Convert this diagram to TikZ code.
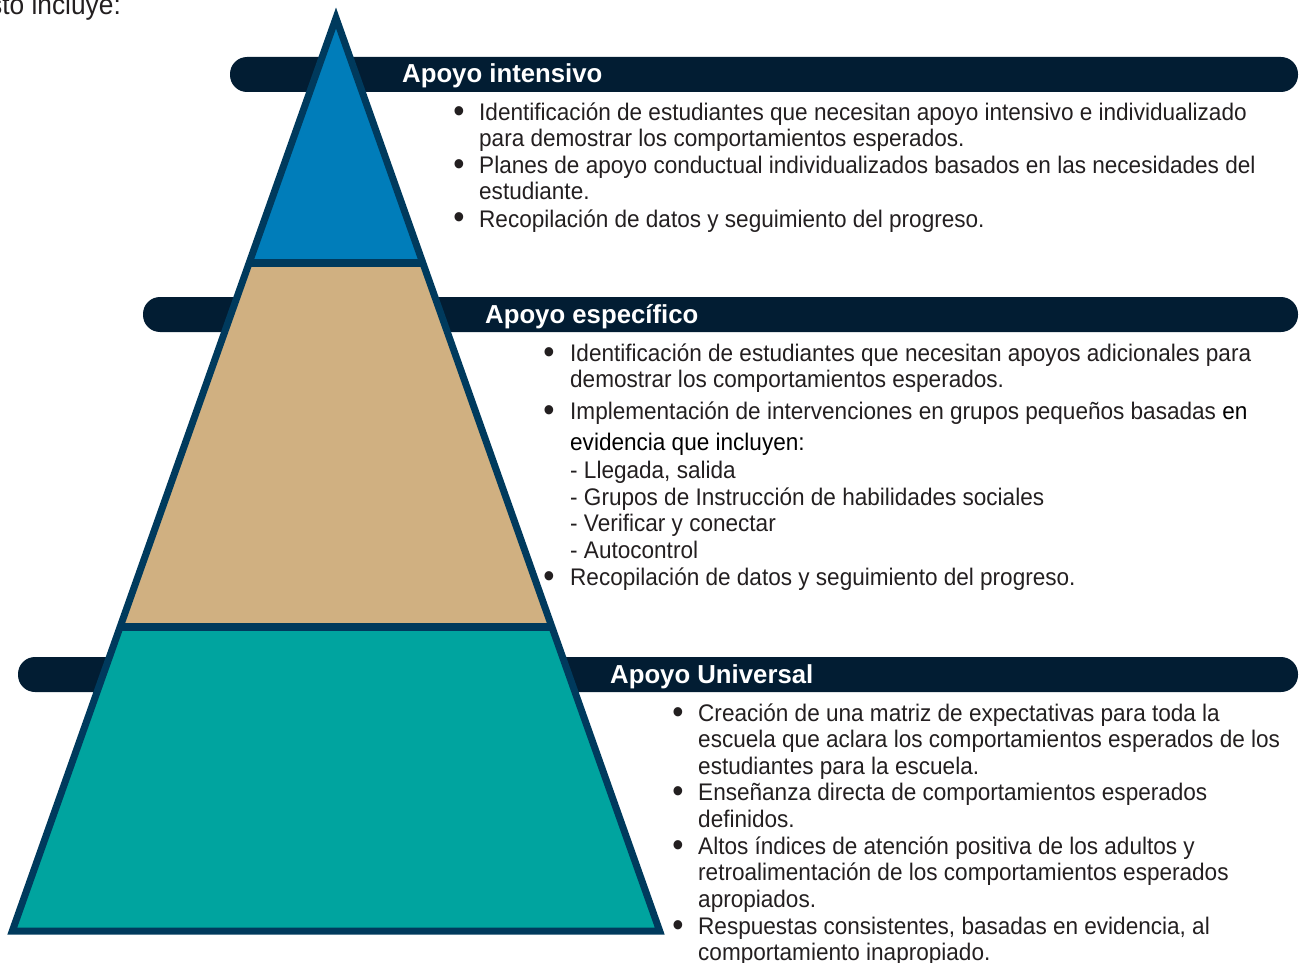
\documentclass[tikz,border=0pt]{standalone}
\usepackage{fontspec}
\setmainfont{Liberation Sans}[FakeStretch=0.94]
\newfontfamily\titlefont{Liberation Sans}[FakeStretch=0.99]
\definecolor{barnavy}{HTML}{021D33}
\definecolor{outl}{HTML}{003A5D}
\definecolor{topblue}{HTML}{007DBA}
\definecolor{midtan}{HTML}{D0B081}
\definecolor{botteal}{HTML}{00A49F}
\definecolor{bodytxt}{HTML}{231F20}
\begin{document}
\begin{tikzpicture}[x=1pt,y=-1pt,
  bar/.style={fill=barnavy,rounded corners=17pt},
  body/.style={anchor=base west,inner sep=0pt,text=bodytxt,font=\fontsize{24}{26}\selectfont},
  bul/.style={anchor=base,inner sep=0pt,text=bodytxt,font=\fontsize{34}{34}\selectfont},
  ttl/.style={anchor=base west,inner sep=0pt,text=white,font=\titlefont\bfseries\fontsize{26}{28}\selectfont}]
\useasboundingbox (0,0) rectangle (1302,963);
% bars
\fill[bar] (230,57) rectangle (1298,92);
\fill[bar] (143,297) rectangle (1298,332);
\fill[bar] (18,657) rectangle (1298,692);
% pyramid coordinates (stroke centre line)
\coordinate (A) at (336,18);
\coordinate (L1) at (249.1,263);
\coordinate (R1) at (422.9,263);
\coordinate (L2) at (120.1,627);
\coordinate (R2) at (551.9,627);
\coordinate (L3) at (12.3,931);
\coordinate (R3) at (659.7,931);
\fill[topblue] (A) -- (L1) -- (R1) -- cycle;
\fill[midtan] (L1) -- (L2) -- (R2) -- (R1) -- cycle;
\fill[botteal] (L2) -- (L3) -- (R3) -- (R2) -- cycle;
\draw[outl,line width=8.5pt] (L1) -- (R1);
\draw[outl,line width=8.5pt] (L2) -- (R2);
\draw[outl,line width=7pt,line join=miter] (A) -- (L3) -- (R3) -- cycle;
% titles
\node[ttl] (t1) at (402,83) {Apoyo intensivo};
\node[ttl] (t2) at (485,323) {Apoyo específico};
\node[ttl] (t3) at (610,683) {Apoyo Universal};
% intro fragment
\node[body,font=\fontsize{28}{30}\selectfont] (intro) at (-11,15) {sto incluye:};
% top block
\node[bul] (b11) at (459,123) {•};
\node[body] (a1) at (479,121) {Identificación de estudiantes que necesitan apoyo intensivo e individualizado};
\node[body] (a2) at (479,147) {para demostrar los comportamientos esperados.};
\node[bul] (b12) at (459,176) {•};
\node[body] (a3) at (479,174) {Planes de apoyo conductual individualizados basados en las necesidades del};
\node[body] (a4) at (479,200) {estudiante.};
\node[bul] (b13) at (459,229) {•};
\node[body] (a5) at (479,227) {Recopilación de datos y seguimiento del progreso.};
% middle block
\node[bul] (b21) at (549,363) {•};
\node[body] (m1) at (570,361) {Identificación de estudiantes que necesitan apoyos adicionales para};
\node[body] (m2) at (570,387) {demostrar los comportamientos esperados.};
\node[bul] (b22) at (549,421) {•};
\node[body] (m3) at (570,419) {Implementación de intervenciones en grupos pequeños basadas \textcolor{black}{en}};
\node[body,text=black] (m4) at (570,450) {evidencia que incluyen:};
\node[body] (m5) at (570,478) {- Llegada, salida};
\node[body] (m6) at (570,505) {- Grupos de Instrucción de habilidades sociales};
\node[body] (m7) at (570,531) {- Verificar y conectar};
\node[body] (m8) at (570,558) {- Autocontrol};
\node[bul] (b23) at (549,587) {•};
\node[body] (m9) at (570,585) {Recopilación de datos y seguimiento del progreso.};
% bottom block
\node[bul] (b31) at (678,723) {•};
\node[body] (u1) at (698,721) {Creación de una matriz de expectativas para toda la};
\node[body] (u2) at (698,747) {escuela que aclara los comportamientos esperados de los};
\node[body] (u3) at (698,774) {estudiantes para la escuela.};
\node[bul] (b32) at (678,802) {•};
\node[body] (u4) at (698,800) {Enseñanza directa de comportamientos esperados};
\node[body] (u5) at (698,827) {definidos.};
\node[bul] (b33) at (678,856) {•};
\node[body] (u6) at (698,854) {Altos índices de atención positiva de los adultos y};
\node[body] (u7) at (698,880) {retroalimentación de los comportamientos esperados};
\node[body] (u8) at (698,907) {apropiados.};
\node[bul] (b34) at (678,936) {•};
\node[body] (u9) at (698,934) {Respuestas consistentes, basadas en evidencia, al};
\node[body] (u10) at (698,960) {comportamiento inapropiado.};
\end{tikzpicture}
\end{document}
